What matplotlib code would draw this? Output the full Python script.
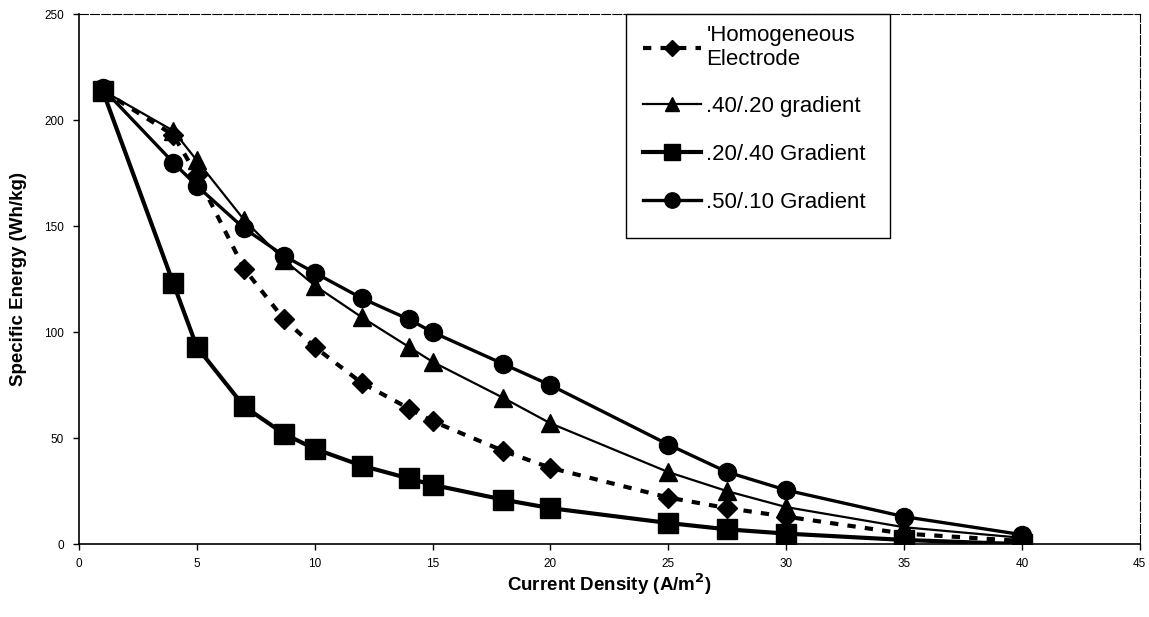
import matplotlib
matplotlib.use("Agg")
import matplotlib.pyplot as plt
from matplotlib.patches import Rectangle

plt.rcParams['font.family'] = ['Liberation Sans', 'DejaVu Sans']

# current density (A/m^2)
current = [1, 4, 5, 7, 8.7, 10, 12, 14, 15, 18, 20, 25, 27.5, 30, 35, 40]

# specific energy (Wh/kg) per electrode
homogeneous = [214, 193, 174, 130, 106, 93, 76, 64, 58, 44, 36, 22, 17, 13, 5, 1.5]
grad_40_20 = [214, 195, 181, 153, 134, 122, 107, 93, 86, 69, 57, 34, 25, 17.5, 8, 3]
grad_20_40 = [214, 123, 93, 65, 52, 45, 37, 31, 28, 21, 17, 10, 7, 5, 2, 0]
grad_50_10 = [215, 180, 169, 149, 136, 128, 116, 106, 100, 85, 75, 47, 34, 25.5, 13, 4.5]

labels = ["'Homogeneous\nElectrode", ".40/.20 gradient", ".20/.40 Gradient", ".50/.10 Gradient"]
x_ticks = [0, 5, 10, 15, 20, 25, 30, 35, 40, 45]
y_ticks = [0, 50, 100, 150, 200, 250]

fig = plt.figure(figsize=(11.49, 6.17), dpi=100)
ax = fig.add_axes([0.0688, 0.118, 0.9232, 0.859])

ax.plot(current, homogeneous, color="black", lw=3.0, linestyle=(0, (2.0, 2.2)),
        marker="D", markersize=10, label=labels[0])
ax.plot(current, grad_40_20, color="black", lw=1.6, marker="^", markersize=12.5,
        label=labels[1])
ax.plot(current, grad_20_40, color="black", lw=3.0, marker="s", markersize=14,
        label=labels[2])
ax.plot(current, grad_50_10, color="black", lw=2.4, marker="o", markersize=13,
        label=labels[3])

ax.set_xlim(0, 45)
ax.set_ylim(0, 250)
ax.set_xticks(x_ticks)
ax.set_yticks(y_ticks)
ax.tick_params(labelsize=8.5, length=4, width=1, direction="out")
ax.tick_params(axis="x", pad=6)
ax.tick_params(axis="y", pad=7)

ax.set_xlabel("Current Density (A/m$^\\mathbf{2}$)", fontsize=13.5, fontweight="bold", labelpad=1)
ax.set_ylabel("Specific Energy (Wh/kg)", fontsize=13.5, fontweight="bold", labelpad=12)

for side in ["left", "bottom"]:
    ax.spines[side].set_linewidth(1.2)
for side in ["top", "right"]:
    ax.spines[side].set_linewidth(0.8)
    ax.spines[side].set_linestyle((0, (8, 2)))

# legend box
ax.add_patch(Rectangle((0.5155, 0.577), 0.249, 0.423, transform=ax.transAxes,
                       facecolor="white", edgecolor="black", lw=1.0, zorder=4,
                       clip_on=False))
leg = ax.legend(loc="upper left", bbox_to_anchor=(0.5316, 0.9793), borderaxespad=0,
                borderpad=0, fontsize=16, frameon=False, handlelength=2.6,
                handletextpad=0.25, labelspacing=1.2, markerscale=0.85)
leg.set_zorder(5)
for t in leg.get_texts():
    t.set_linespacing(1.15)

fig.savefig("out.png", dpi=100)
